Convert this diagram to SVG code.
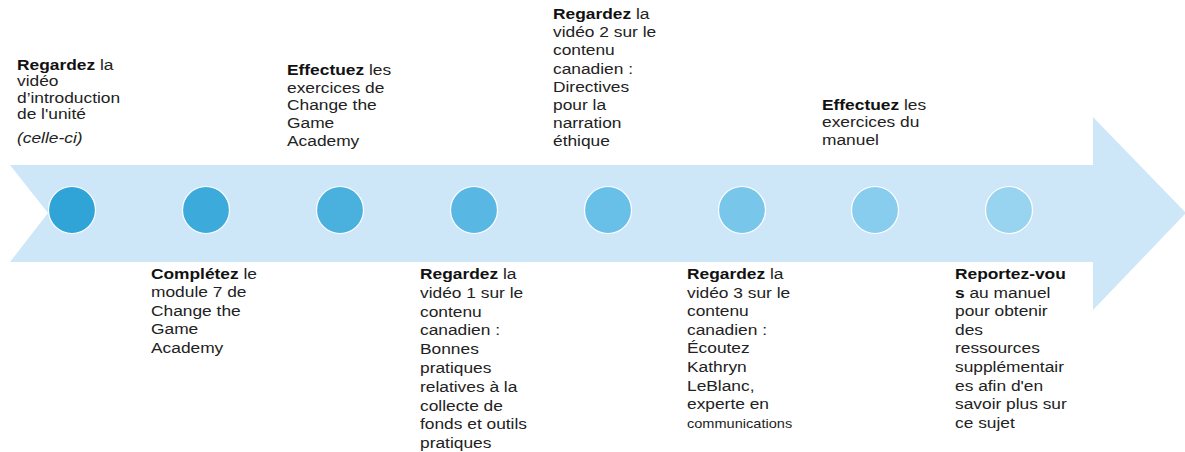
<svg xmlns="http://www.w3.org/2000/svg" width="1185" height="452" viewBox="0 0 1185 452">
<style>
  text { font-family: "Liberation Sans", Arial, Helvetica, sans-serif; font-size: 15.5px; fill: #222; }
  .b { font-weight: bold; fill: #111; }
  .i { font-style: italic; }
  .sm { font-size: 13px; }
  .dot { stroke: #ffffff; stroke-width: 1.2; }
</style>
<rect width="1185" height="452" fill="#ffffff"/>
<g id="arrow">
  <polygon points="10,165 1093,165 1093,117 1186,213 1093,310 1093,262 10,262 48,213" fill="#cde7f8"/>
</g>
<g id="connectors"></g>
<g id="dots">
  <circle id="dot1" class="dot" cx="72" cy="210" r="23.5" fill="#30a4d7"/>
  <circle id="dot2" class="dot" cx="206" cy="210" r="23.5" fill="#3caadb"/>
  <circle id="dot3" class="dot" cx="340" cy="210" r="23.5" fill="#4ab1df"/>
  <circle id="dot4" class="dot" cx="474" cy="210" r="23.5" fill="#58b8e3"/>
  <circle id="dot5" class="dot" cx="608" cy="210" r="23.5" fill="#68bfe7"/>
  <circle id="dot6" class="dot" cx="742" cy="210" r="23.5" fill="#78c6ea"/>
  <circle id="dot7" class="dot" cx="875" cy="210" r="23.5" fill="#88cdee"/>
  <circle id="dot8" class="dot" cx="1009" cy="210" r="23.5" fill="#98d3f0"/>
</g>
<g id="t1" transform="translate(17,0) scale(1.12,1)">
  <text y="70"><tspan x="0" class="b">Regardez</tspan> la<tspan x="0" dy="16.4">vidéo</tspan><tspan x="0" dy="16.4">d’introduction</tspan><tspan x="0" dy="16.4">de l'unité</tspan><tspan x="0" dy="24" class="i">(celle-ci)</tspan></text>
</g>
<g id="t2" transform="translate(287,0) scale(1.12,1)">
  <text y="75"><tspan x="0" class="b">Effectuez</tspan> les<tspan x="0" dy="17.7">exercices de</tspan><tspan x="0" dy="17.7">Change the</tspan><tspan x="0" dy="17.7">Game</tspan><tspan x="0" dy="17.7">Academy</tspan></text>
</g>
<g id="t3" transform="translate(553,0) scale(1.12,1)">
  <text y="19"><tspan x="0" class="b">Regardez</tspan> la<tspan x="0" dy="18.2">vidéo 2 sur le</tspan><tspan x="0" dy="18.2">contenu</tspan><tspan x="0" dy="18.2">canadien :</tspan><tspan x="0" dy="18.2">Directives</tspan><tspan x="0" dy="18.2">pour la</tspan><tspan x="0" dy="18.2">narration</tspan><tspan x="0" dy="18.2">éthique</tspan></text>
</g>
<g id="t4" transform="translate(822,0) scale(1.12,1)">
  <text y="110"><tspan x="0" class="b">Effectuez</tspan> les<tspan x="0" dy="17.5">exercices du</tspan><tspan x="0" dy="17.5">manuel</tspan></text>
</g>
<g id="b1" transform="translate(151,0) scale(1.12,1)">
  <text y="279"><tspan x="0" class="b">Complétez</tspan> le<tspan x="0" dy="18.4">module 7 de</tspan><tspan x="0" dy="18.4">Change the</tspan><tspan x="0" dy="18.4">Game</tspan><tspan x="0" dy="18.4">Academy</tspan></text>
</g>
<g id="b2" transform="translate(420,0) scale(1.12,1)">
  <text y="279"><tspan x="0" class="b">Regardez</tspan> la<tspan x="0" dy="18.8">vidéo 1 sur le</tspan><tspan x="0" dy="18.8">contenu</tspan><tspan x="0" dy="18.8">canadien :</tspan><tspan x="0" dy="18.8">Bonnes</tspan><tspan x="0" dy="18.8">pratiques</tspan><tspan x="0" dy="18.8">relatives à la</tspan><tspan x="0" dy="18.8">collecte de</tspan><tspan x="0" dy="18.8">fonds et outils</tspan><tspan x="0" dy="18.8">pratiques</tspan></text>
</g>
<g id="b3" transform="translate(687,0) scale(1.12,1)">
  <text y="279"><tspan x="0" class="b">Regardez</tspan> la<tspan x="0" dy="18.6">vidéo 3 sur le</tspan><tspan x="0" dy="18.6">contenu</tspan><tspan x="0" dy="18.6">canadien :</tspan><tspan x="0" dy="18.6">Écoutez</tspan><tspan x="0" dy="18.6">Kathryn</tspan><tspan x="0" dy="18.6">LeBlanc,</tspan><tspan x="0" dy="18.6">experte en</tspan><tspan x="0" dy="18.6" class="sm">communications</tspan></text>
</g>
<g id="b4" transform="translate(955,0) scale(1.12,1)">
  <text y="279"><tspan x="0" class="b">Reportez-vou</tspan><tspan x="0" dy="18.6" class="b">s</tspan> au manuel<tspan x="0" dy="18.6">pour obtenir</tspan><tspan x="0" dy="18.6">des</tspan><tspan x="0" dy="18.6">ressources</tspan><tspan x="0" dy="18.6">supplémentair</tspan><tspan x="0" dy="18.6">es afin d'en</tspan><tspan x="0" dy="18.6">savoir plus sur</tspan><tspan x="0" dy="18.6">ce sujet</tspan></text>
</g>
</svg>
